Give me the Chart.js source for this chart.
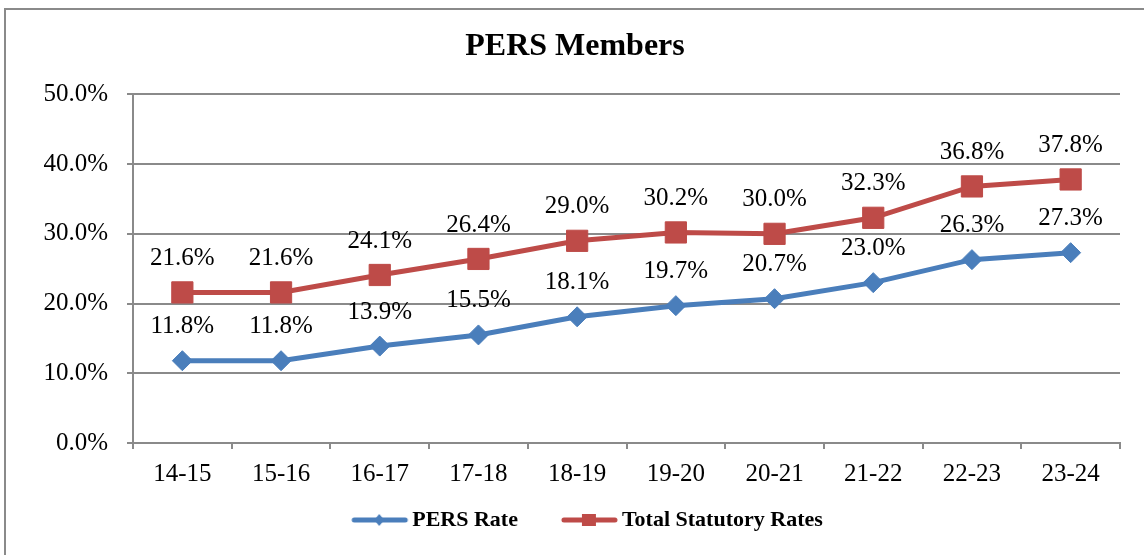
<!DOCTYPE html>
<html>
<head>
<meta charset="utf-8">
<script src="https://cdn.jsdelivr.net/npm/chart.js@4"></script>
<style>
  body { margin:0; background:#fff; }
  #wrap { position:relative; width:1144px; height:555px; overflow:hidden; }
  #frame { position:absolute; left:4px; top:8px; width:1200px; height:600px; border:2px solid #8a8a8a; pointer-events:none; }
  canvas { position:absolute; left:0; top:0; }
</style>
</head>
<body>
<div id="wrap">
  <canvas id="chart" width="1144" height="555"></canvas>
  <div id="frame"></div>
</div>
<script>
// data
const years = ["14-15","15-16","16-17","17-18","18-19","19-20","20-21","21-22","22-23","23-24"];
const persRate = [11.8, 11.8, 13.9, 15.5, 18.1, 19.7, 20.7, 23.0, 26.3, 27.3];
const totalRates = [21.6, 21.6, 24.1, 26.4, 29.0, 30.2, 30.0, 32.3, 36.8, 37.8];
const yTicks = [0, 10, 20, 30, 40, 50];

const BLUE = "#4a7ebb";
const RED = "#be4b48";
const SERIF = "'Liberation Serif', 'Times New Roman', serif";

// little line+marker picture for the legend
function legendIcon(color, shape){
  const c = document.createElement("canvas");
  c.width = 96; c.height = 20;
  const g = c.getContext("2d");
  g.strokeStyle = color; g.fillStyle = color;
  g.lineWidth = 5; g.lineCap = "round";
  g.beginPath(); g.moveTo(38, 10); g.lineTo(89, 10); g.stroke();
  const cx = 63;
  g.beginPath();
  if (shape === "diamond") {
    g.moveTo(cx, 4); g.lineTo(cx+5, 10); g.lineTo(cx, 16); g.lineTo(cx-5, 10);
  } else {
    g.rect(cx-7, 4, 14, 12);
  }
  g.fill();
  return c;
}

// value labels above each point
const valueLabels = {
  id: "valueLabels",
  afterDatasetsDraw(chart){
    const ctx = chart.ctx;
    ctx.save();
    ctx.font = "25px " + SERIF;
    ctx.fillStyle = "#000";
    ctx.textAlign = "center";
    ctx.textBaseline = "middle";
    chart.data.datasets.forEach((ds, i) => {
      chart.getDatasetMeta(i).data.forEach((pt, j) => {
        ctx.fillText(ds.data[j].toFixed(1) + "%", pt.x, pt.y - 34);
      });
    });
    ctx.restore();
  }
};

new Chart(document.getElementById("chart"), {
  type: "line",
  data: {
    labels: years,
    datasets: [{
      label: "PERS Rate",
      data: persRate,
      borderColor: BLUE,
      backgroundColor: BLUE,
      borderWidth: 5,
      pointStyle: "rectRot",
      pointRadius: 10,
      pointBorderWidth: 1,
      tension: 0
    },{
      label: "Total Statutory Rates",
      data: totalRates,
      borderColor: RED,
      backgroundColor: RED,
      borderWidth: 5,
      pointStyle: "rect",
      pointRadius: 15,
      pointBorderWidth: 1,
      tension: 0
    }]
  },
  options: {
    responsive: false,
    animation: false,
    layout: { padding: { left: 30, right: 24, top: 0, bottom: 14 } },
    plugins: {
      title: {
        display: true,
        text: "PERS Members",
        color: "#000",
        font: { family: SERIF, size: 32, weight: "bold" },
        padding: { top: 28, bottom: 28 }
      },
      legend: {
        position: "bottom",
        labels: {
          usePointStyle: true,
          pointStyleWidth: 74,
          padding: 19,
          color: "#000",
          font: { family: SERIF, size: 22, weight: "bold" },
          generateLabels(chart){
            return chart.data.datasets.map((ds, i) => ({
              text: ds.label,
              pointStyle: legendIcon(ds.borderColor, i === 0 ? "diamond" : "square"),
              fillStyle: ds.borderColor,
              strokeStyle: ds.borderColor,
              lineWidth: 0,
              hidden: false,
              datasetIndex: i
            }));
          }
        }
      },
      tooltip: { enabled: false }
    },
    scales: {
      x: {
        offset: true,
        grid: { offset: true, drawOnChartArea: false, drawTicks: true, tickLength: 6, color: "#8a8a8a", lineWidth: 2 },
        border: { color: "#8a8a8a", width: 2 },
        ticks: { color: "#000", padding: 10, font: { family: SERIF, size: 25 } },
        afterFit(scale){ scale.height = 47; }
      },
      y: {
        min: 0, max: 50,
        afterBuildTicks(scale){ scale.ticks = yTicks.map(v => ({ value: v })); },
        grid: { color: "#8a8a8a", lineWidth: 2, tickLength: 6 },
        border: { color: "#8a8a8a", width: 2 },
        ticks: {
          color: "#000", padding: 19,
          font: { family: SERIF, size: 25 },
          callback: v => v.toFixed(1) + "%"
        },
        afterFit(scale){ scale.width = 103; }
      }
    }
  },
  plugins: [valueLabels]
});
</script>
</body>
</html>
